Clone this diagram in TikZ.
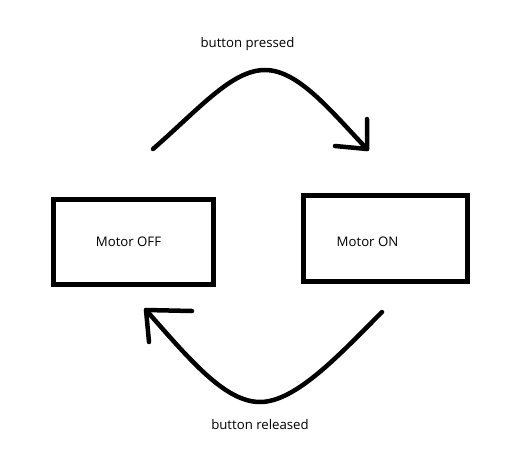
\documentclass[tikz,border=0pt]{standalone}
\usepackage{fontspec}
\setmainfont{Open Sans}
\begin{document}
\begin{tikzpicture}[x=1pt,y=-1pt,
  statebox/.style={draw=black,line width=5pt,inner sep=0pt},
  lbl/.style={font=\fontsize{13.2}{15}\selectfont,inner sep=0pt,text=black},
  stroke/.style={draw=black,line width=4.5pt,line cap=round,line join=round}]
\useasboundingbox[fill=white] (0,0) rectangle (518,452);
% boxes
\node[statebox,minimum width=160pt,minimum height=85pt] (off) at (133,242) {};
\node[statebox,minimum width=164.5pt,minimum height=86.5pt] (on) at (385.25,238.25) {};
% texts
\node[lbl] (offtxt) at (128.5,241.5) {Motor OFF};
\node[lbl] (ontxt) at (367.5,242) {Motor ON};
\node[lbl] (pressed) at (247.5,44.5) {button pressed};
\node[lbl] (released) at (260,425) {button released};
% top connector
\coordinate (ts) at (153,149);
\coordinate (tp) at (265,70);
\coordinate (tt) at (367,149);
\coordinate (th1) at (367,119);
\coordinate (th2) at (335,146);
\draw[stroke] (ts) .. controls (200,108) and (232,70) .. (tp)
  .. controls (298,70) and (330,110) .. (tt);
\draw[stroke] (th1) -- (tt) -- (th2);
% bottom connector
\coordinate (bs) at (382,312);
\coordinate (bp) at (260,402);
\coordinate (bt) at (146,310);
\coordinate (bh1) at (192,311);
\coordinate (bh2) at (149,342);
\draw[stroke] (bs) .. controls (340,354) and (296,402) .. (bp)
  .. controls (225,402) and (190,360) .. (bt);
\draw[stroke] (bh1) -- (bt) -- (bh2);
\end{tikzpicture}
\end{document}
